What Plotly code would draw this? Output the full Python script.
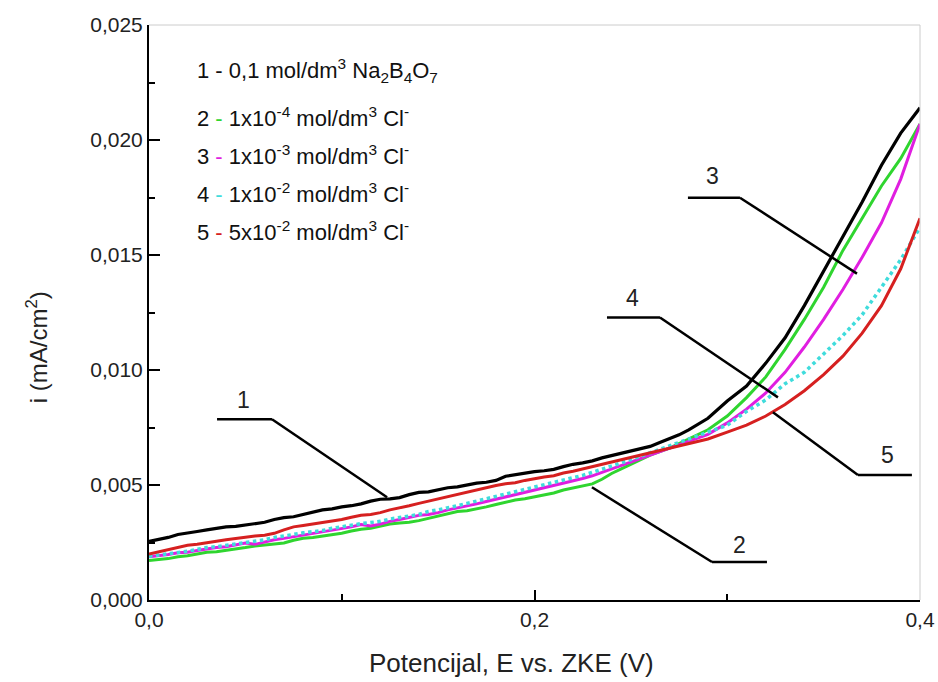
import plotly.graph_objects as go

# ---- data ----
E = [round(0.005 * k, 3) for k in range(57)] + [round(0.29 + 0.01 * k, 2) for k in range(12)]

i_borax = [0.00255, 0.00262, 0.00272, 0.00285, 0.00290, 0.00298, 0.00305, 0.00312, 0.00318, 0.00320,
           0.00326, 0.00332, 0.00338, 0.00350, 0.00358, 0.00362, 0.00372, 0.00385, 0.00392, 0.00396,
           0.00405, 0.00410, 0.00418, 0.00430, 0.00438, 0.00440, 0.00445, 0.00458, 0.00468, 0.00470,
           0.00478, 0.00488, 0.00492, 0.00500, 0.00508, 0.00512, 0.00520, 0.00538, 0.00545, 0.00550,
           0.00558, 0.00562, 0.00568, 0.00580, 0.00590, 0.00596, 0.00605, 0.00618, 0.00628, 0.00638,
           0.00648, 0.00655, 0.00668, 0.00685, 0.00700, 0.00718, 0.00740,
           0.00790, 0.00865, 0.00930, 0.01030, 0.01140, 0.01280, 0.01430, 0.01580, 0.01730, 0.01890,
           0.02030, 0.02140]
i_cl_1e4 = [0.00172, 0.00175, 0.00180, 0.00188, 0.00192, 0.00200, 0.00208, 0.00210, 0.00215, 0.00222,
            0.00228, 0.00235, 0.00240, 0.00242, 0.00248, 0.00260, 0.00268, 0.00272, 0.00278, 0.00285,
            0.00290, 0.00300, 0.00308, 0.00312, 0.00322, 0.00330, 0.00335, 0.00338, 0.00345, 0.00355,
            0.00365, 0.00375, 0.00385, 0.00388, 0.00395, 0.00405, 0.00415, 0.00425, 0.00435, 0.00440,
            0.00448, 0.00455, 0.00465, 0.00478, 0.00488, 0.00495, 0.00505, 0.00525, 0.00550, 0.00570,
            0.00590, 0.00610, 0.00630, 0.00645, 0.00660, 0.00680, 0.00700,
            0.00740, 0.00800, 0.00880, 0.00970, 0.01090, 0.01220, 0.01360, 0.01520, 0.01660, 0.01800,
            0.01920, 0.02070]
i_cl_1e3 = [0.00188, 0.00192, 0.00198, 0.00205, 0.00208, 0.00215, 0.00222, 0.00228, 0.00232, 0.00240,
            0.00248, 0.00242, 0.00252, 0.00262, 0.00268, 0.00275, 0.00282, 0.00292, 0.00298, 0.00305,
            0.00312, 0.00318, 0.00328, 0.00322, 0.00330, 0.00342, 0.00350, 0.00360, 0.00368, 0.00372,
            0.00380, 0.00392, 0.00400, 0.00410, 0.00418, 0.00428, 0.00438, 0.00448, 0.00458, 0.00466,
            0.00478, 0.00485, 0.00495, 0.00508, 0.00518, 0.00528, 0.00540, 0.00555, 0.00570, 0.00585,
            0.00600, 0.00615, 0.00630, 0.00645, 0.00660, 0.00675, 0.00690,
            0.00720, 0.00770, 0.00830, 0.00900, 0.00990, 0.01100, 0.01220, 0.01350, 0.01490, 0.01640,
            0.01830, 0.02070]
i_cl_1e2 = [0.00190, 0.00195, 0.00202, 0.00208, 0.00212, 0.00220, 0.00228, 0.00232, 0.00238, 0.00245,
            0.00252, 0.00258, 0.00262, 0.00272, 0.00280, 0.00285, 0.00292, 0.00298, 0.00302, 0.00312,
            0.00320, 0.00325, 0.00332, 0.00338, 0.00342, 0.00352, 0.00360, 0.00365, 0.00372, 0.00385,
            0.00392, 0.00400, 0.00410, 0.00420, 0.00430, 0.00440, 0.00450, 0.00460, 0.00470, 0.00480,
            0.00490, 0.00500, 0.00510, 0.00520, 0.00530, 0.00542, 0.00555, 0.00568, 0.00580, 0.00595,
            0.00610, 0.00625, 0.00640, 0.00655, 0.00670, 0.00685, 0.00700,
            0.00730, 0.00760, 0.00820, 0.00870, 0.00940, 0.00990, 0.01070, 0.01150, 0.01240, 0.01360,
            0.01480, 0.01620]
i_cl_5e2 = [0.00200, 0.00210, 0.00220, 0.00230, 0.00238, 0.00242, 0.00250, 0.00255, 0.00262, 0.00268,
            0.00272, 0.00278, 0.00282, 0.00290, 0.00305, 0.00318, 0.00324, 0.00330, 0.00338, 0.00345,
            0.00350, 0.00360, 0.00368, 0.00372, 0.00380, 0.00392, 0.00400, 0.00410, 0.00420, 0.00430,
            0.00440, 0.00450, 0.00458, 0.00468, 0.00478, 0.00490, 0.00498, 0.00505, 0.00510, 0.00520,
            0.00528, 0.00535, 0.00540, 0.00552, 0.00560, 0.00570, 0.00580, 0.00590, 0.00600, 0.00610,
            0.00620, 0.00630, 0.00640, 0.00650, 0.00660, 0.00670, 0.00680,
            0.00700, 0.00730, 0.00760, 0.00800, 0.00850, 0.00910, 0.00980, 0.01060, 0.01160, 0.01280,
            0.01440, 0.01660]

legend_labels = [
    "1 - 0,1 mol/dm<sup>3</sup> Na<sub>2</sub>B<sub>4</sub>O<sub>7</sub>",
    "2 {d} 1x10<sup>-4</sup> mol/dm<sup>3</sup> Cl<sup>-</sup>",
    "3 {d} 1x10<sup>-3</sup> mol/dm<sup>3</sup> Cl<sup>-</sup>",
    "4 {d} 1x10<sup>-2</sup> mol/dm<sup>3</sup> Cl<sup>-</sup>",
    "5 {d} 5x10<sup>-2</sup> mol/dm<sup>3</sup> Cl<sup>-</sup>",
]

# callout leader lines (E, i) and label positions
callouts = [
    ("1", [(0.0353, 0.00786), (0.0638, 0.00786), (0.1235, 0.00447)], (0.0488, 0.00868)),
    ("2", [(0.2298, 0.00490), (0.2921, 0.00165), (0.3206, 0.00165)], (0.3066, 0.00239)),
    ("3", [(0.2796, 0.01749), (0.3066, 0.01749), (0.3673, 0.01419)], (0.2921, 0.01845)),
    ("4", [(0.2376, 0.01228), (0.2651, 0.01228), (0.3263, 0.00881)], (0.2506, 0.01315)),
    ("5", [(0.3237, 0.00816), (0.3678, 0.00543), (0.3958, 0.00543)], (0.3829, 0.00629)),
]

BLACK = "#000000"
GREEN = "#2fd52f"
MAGENTA = "#e01ee0"
CYAN = "#3fdcdc"
RED = "#d62020"
FONT = "Arial, Liberation Sans, sans-serif"

fig = go.Figure()
series = [
    (i_cl_1e4, GREEN, "solid", 3),
    (i_cl_1e3, MAGENTA, "solid", 3),
    (i_cl_1e2, CYAN, "dot", 3.5),
    (i_cl_5e2, RED, "solid", 3),
    (i_borax, BLACK, "solid", 3.2),
]
for ys, col, dash, w in series:
    fig.add_trace(go.Scatter(x=E, y=ys, mode="lines",
                             line=dict(color=col, width=w, dash=dash),
                             showlegend=False, hoverinfo="skip"))

# callouts
for lab, pts, lpos in callouts:
    for (x0, y0), (x1, y1) in zip(pts[:-1], pts[1:]):
        fig.add_shape(type="line", xref="x", yref="y", x0=x0, y0=y0, x1=x1, y1=y1,
                      line=dict(color=BLACK, width=2.5))
    fig.add_annotation(x=lpos[0], y=lpos[1], xref="x", yref="y", text=lab, showarrow=False,
                       font=dict(family=FONT, size=23, color="#222"))

# legend text
dash_cols = [BLACK, GREEN, MAGENTA, CYAN, RED]
legend_y = [0.920, 0.840, 0.774, 0.707, 0.641]
for k, (txt, c, yy) in enumerate(zip(legend_labels, dash_cols, legend_y)):
    t = txt.replace("{d}", f"<span style='color:{c}'>-</span>")
    fig.add_annotation(x=0.060, y=yy, xref="paper", yref="paper", text=t, showarrow=False,
                       xanchor="left", yanchor="middle",
                       font=dict(family=FONT, size=22, color="#111"))

# frame (top/right light grey)
fig.add_shape(type="line", xref="paper", yref="paper", x0=0, y0=1, x1=1, y1=1,
              line=dict(color="#cccccc", width=1))
fig.add_shape(type="line", xref="paper", yref="paper", x0=1, y0=0, x1=1, y1=1,
              line=dict(color="#cccccc", width=1))

# axis titles
fig.add_annotation(x=0.47, y=-0.11, xref="paper", yref="paper",
                   text="Potencijal, E vs. ZKE (V)", showarrow=False,
                   xanchor="center", yanchor="middle",
                   font=dict(family=FONT, size=26, color="#222"))
fig.add_annotation(x=-0.145, y=0.44, xref="paper", yref="paper",
                   text="i (mA/cm<sup>2</sup>)", showarrow=False, textangle=-90,
                   xanchor="center", yanchor="middle",
                   font=dict(family=FONT, size=24, color="#222"))

fig.update_layout(
    width=938, height=682,
    margin=dict(l=149, r=18, t=25, b=82, autoexpand=False),
    paper_bgcolor="white", plot_bgcolor="white",
    separators=", ",
    font=dict(family=FONT, color="#222"),
)
fig.update_xaxes(range=[0, 0.4], tickvals=[0, 0.2, 0.4], tickformat=".1f",
                 showgrid=False, zeroline=False, showline=True, linecolor=BLACK, linewidth=2,
                 ticks="inside", ticklen=10, tickwidth=1.5, tickcolor=BLACK,
                 tickfont=dict(size=21, family=FONT, color="#222"),
                 minor=dict(tickvals=[0.1, 0.3], ticks="inside", ticklen=6, tickwidth=1.5,
                            tickcolor=BLACK, showgrid=False))
fig.update_yaxes(range=[0, 0.025], dtick=0.005, tickformat=".3f",
                 showgrid=False, zeroline=False, showline=True, linecolor=BLACK, linewidth=2,
                 ticks="inside", ticklen=11, tickwidth=1.5, tickcolor=BLACK,
                 tickfont=dict(size=21, family=FONT, color="#222"),
                 minor=dict(dtick=0.0025, ticks="inside", ticklen=6, tickwidth=1.5,
                            tickcolor=BLACK, showgrid=False))

fig.write_html("out.html", config={"displayModeBar": False},
               post_script="document.body.style.margin='0px';")
